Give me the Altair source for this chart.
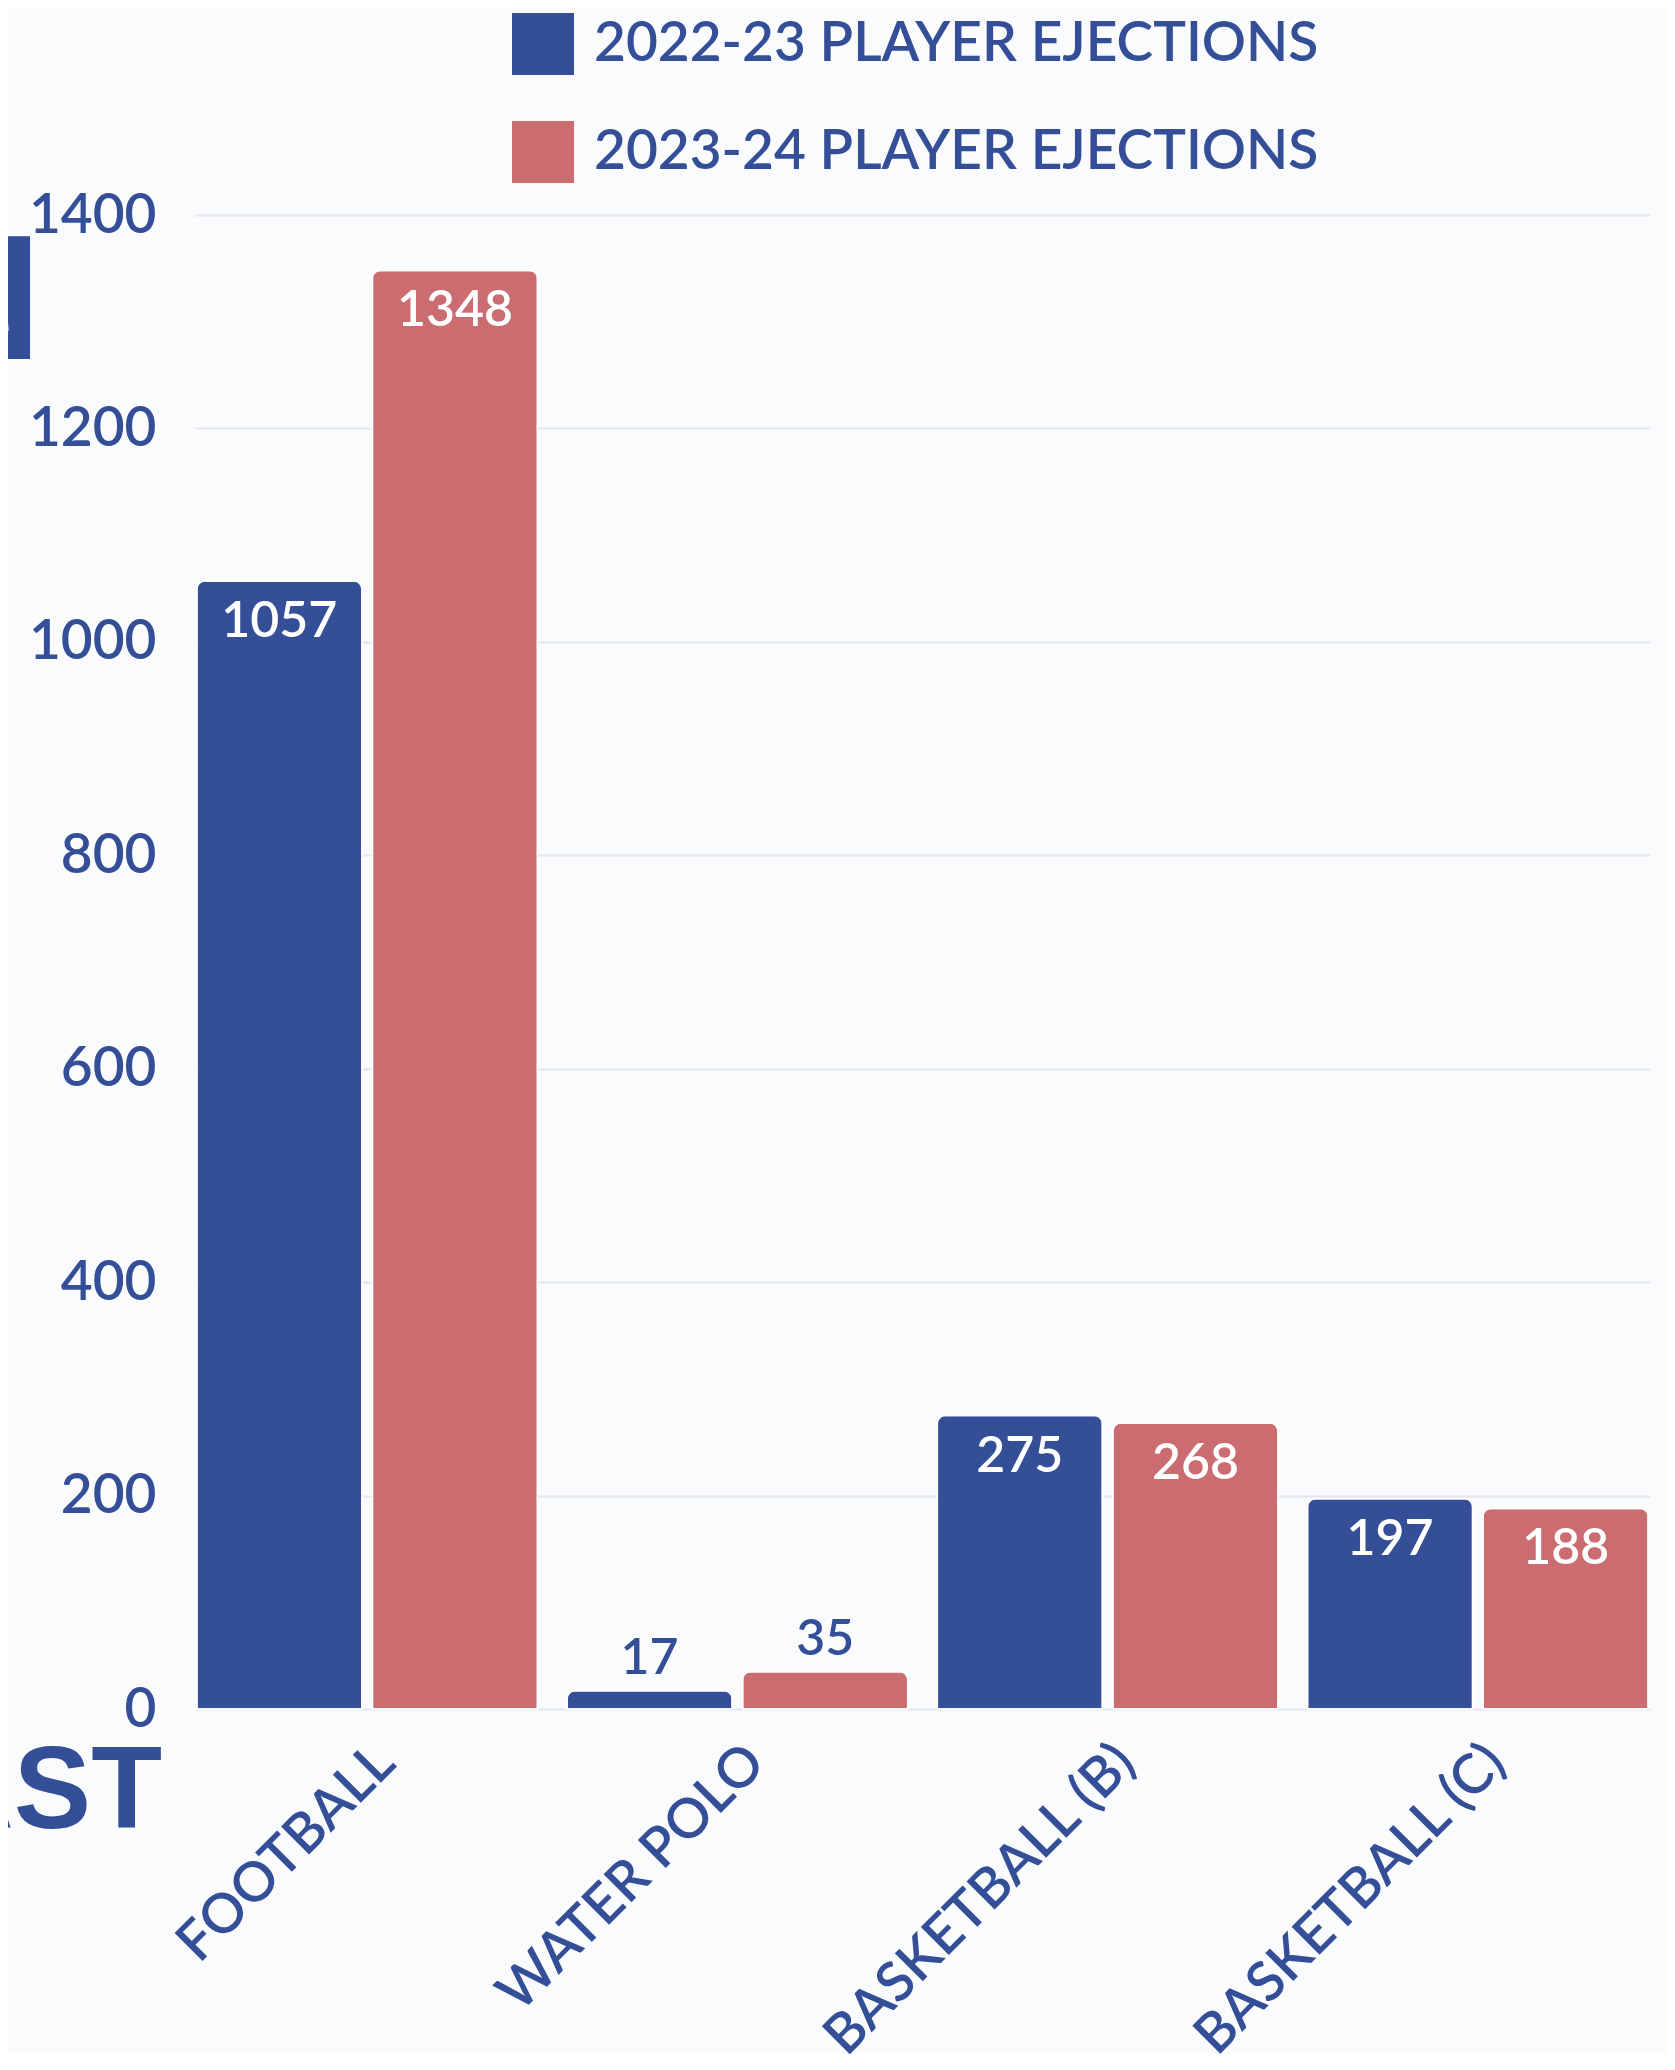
import altair as alt
import pandas as pd

sports = ["FOOTBALL", "WATER POLO", "BASKETBALL (B)", "BASKETBALL (C)"]
season_2223 = [1057, 17, 275, 197]
season_2324 = [1348, 35, 268, 188]
series_names = ["2022-23 PLAYER EJECTIONS", "2023-24 PLAYER EJECTIONS"]
series_colors = ["#344f97", "#cb6c70"]
y_ticks = [0, 200, 400, 600, 800, 1000, 1200, 1400]
heading_fragments = ["N", "AST"]

BLUE = "#344f97"
FONT = "Lato"
WEIGHT = 600

rows = []
for i, s in enumerate(sports):
    rows.append({"sport": s, "series": series_names[0], "value": season_2223[i]})
    rows.append({"sport": s, "series": series_names[1], "value": season_2324[i]})
df = pd.DataFrame(rows)

x_enc = alt.X(
    "sport:N",
    sort=sports,
    scale=alt.Scale(paddingInner=0.08, paddingOuter=0.005),
    axis=alt.Axis(
        title=None, labelAngle=-45, labelAlign="right", labelBaseline="top",
        labelFontSize=55, labelColor=BLUE, labelFont=FONT, labelFontWeight=WEIGHT,
        labelPadding=26, labelLimit=1000, domain=False, ticks=False, grid=False,
    ),
)
xoff_enc = alt.XOffset(
    "series:N", sort=series_names,
    scale=alt.Scale(paddingInner=0.06, paddingOuter=0),
)
y_enc = alt.Y(
    "value:Q",
    scale=alt.Scale(domain=[0, 1400], nice=False),
    axis=alt.Axis(
        title=None, values=y_ticks, format="d", domain=False, ticks=False,
        labelFontSize=55, labelColor=BLUE, labelFont=FONT, labelFontWeight=WEIGHT,
        labelPadding=39, gridColor="#e2e6ef", gridWidth=2,
    ),
)

base = alt.Chart(df)

bars = base.mark_bar(
    cornerRadiusTopLeft=8, cornerRadiusTopRight=8,
    stroke="#ffffff", strokeWidth=1.5,
).encode(
    x=x_enc,
    xOffset=xoff_enc,
    y=y_enc,
    color=alt.Color(
        "series:N",
        scale=alt.Scale(domain=series_names, range=series_colors),
        legend=alt.Legend(
            title=None, orient="none", legendX=317, legendY=-202,
            symbolType="square", symbolSize=3844, symbolStrokeWidth=0,
            symbolOpacity=1, labelFontSize=55, labelColor=BLUE, labelFont=FONT,
            labelFontWeight=WEIGHT, labelOffset=20, rowPadding=46,
            direction="vertical", labelLimit=1200,
        ),
    ),
)

inside = base.transform_filter("datum.value > 100").mark_text(
    dy=41, color="#ffffff", fontSize=50, font=FONT, fontWeight=WEIGHT,
    baseline="middle",
).encode(x=x_enc, xOffset=xoff_enc, y=y_enc, text="value:Q")

above = base.transform_filter("datum.value <= 100").mark_text(
    dy=-32, color=BLUE, fontSize=50, font=FONT, fontWeight=WEIGHT,
    baseline="middle",
).encode(x=x_enc, xOffset=xoff_enc, y=y_enc, text="value:Q")

frag1 = alt.Chart(pd.DataFrame({"t": [heading_fragments[0]]})).mark_text(
    align="right", baseline="alphabetic", fontSize=178, fontWeight="bold",
    font="Liberation Sans", color=BLUE,
).encode(x=alt.value(-153), y=alt.value(144), text="t:N")

frag2 = alt.Chart(pd.DataFrame({"t": [heading_fragments[1]]})).mark_text(
    align="right", baseline="alphabetic", fontSize=116, fontWeight="bold",
    font="Liberation Sans", color=BLUE,
).encode(x=alt.value(-33), y=alt.value(1613), text="t:N")

chart = alt.layer(bars, inside, above, frag1, frag2).properties(
    width=1455, height=1494,
    autosize=alt.AutoSizeParams(type="none"),
    padding={"left": 187, "top": 207, "right": 17, "bottom": 345},
    background="#fafbfc",
).configure_view(stroke=None)

chart.save("out.html", embed_options={"renderer": "svg", "actions": False})
